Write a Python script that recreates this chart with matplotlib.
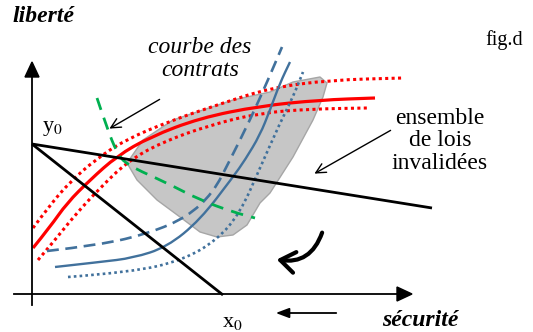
import numpy as np
import matplotlib
matplotlib.use("Agg")
import matplotlib.pyplot as plt
from matplotlib.path import Path
from matplotlib.patches import PathPatch, Polygon, FancyArrowPatch

# ---- diagram data (pixel-like coordinates, y downwards) ----
budget_line_1 = [(32, 144), (432, 208)]
budget_line_2 = [(32, 144), (223, 295)]

red_solid_x = [33, 50, 67, 90, 117, 150, 200, 260, 320, 375]
red_solid_y = [248, 227, 203, 180, 156, 137, 118, 106, 100, 98]
red_up_x = [33, 50, 70, 95, 125, 170, 220, 270, 330, 403]
red_up_y = [228, 205, 182, 160, 140, 121, 104, 88, 80, 78]
red_low_x = [38, 55, 75, 100, 127, 160, 210, 260, 310, 367]
red_low_y = [260, 240, 215, 188, 162, 143, 125, 113, 109, 108]

blue_dash_x = [47, 100, 150, 187, 213, 230, 250, 268, 282]
blue_dash_y = [251, 245, 233, 217, 193, 160, 120, 80, 47]
blue_solid_x = [55, 100, 133, 167, 200, 233, 245, 260, 270, 280, 290]
blue_solid_y = [267, 262, 258, 247, 220, 177, 160, 135, 110, 83, 62]
blue_dot_x = [68, 133, 183, 217, 240, 260, 280, 293, 303]
blue_dot_y = [277, 272, 260, 240, 213, 168, 123, 97, 72]

green_x = [97, 107, 117, 127, 167, 200, 233, 255]
green_y = [98, 128, 153, 165, 183, 200, 212, 218]

blob_x = [127, 143, 173, 233, 270, 293, 320, 327, 323, 313, 293, 270, 260, 247, 233, 217, 200, 180, 157, 137]
blob_y = [163, 140, 120, 100, 92, 82, 77, 83, 97, 120, 157, 193, 203, 225, 235, 237, 232, 217, 200, 180]

BLUE = "#41719C"
RED = "#FF0000"
GREEN = "#00B050"


def smooth_path(xs, ys):
    pts = list(zip(xs, ys))
    verts = [pts[0]]
    codes = [Path.MOVETO]
    for i in range(1, len(pts) - 1):
        mid = ((pts[i][0] + pts[i + 1][0]) / 2, (pts[i][1] + pts[i + 1][1]) / 2)
        verts += [pts[i], mid]
        codes += [Path.CURVE3, Path.CURVE3]
    verts.append(pts[-1])
    codes.append(Path.LINETO)
    return Path(verts, codes)


fig = plt.figure(figsize=(5.33, 3.32), dpi=100)
ax = fig.add_axes([0, 0, 1, 1])
ax.set_xlim(0, 533)
ax.set_ylim(332, 0)
ax.axis("off")

# gray blob
ax.add_patch(Polygon(list(zip(blob_x, blob_y)), closed=True, facecolor="#C6C6C6",
                     edgecolor="#A6A6A6", lw=1.0, joinstyle="round", zorder=1))

# axes
ax.plot([14, 398], [294, 294], color="black", lw=1.3, zorder=3)
ax.plot([32, 32], [305, 76], color="black", lw=1.3, zorder=3)
ax.add_patch(Polygon([(397, 287), (412, 294), (397, 301)], closed=True, color="black", zorder=3))
ax.add_patch(Polygon([(25, 77), (32, 62), (39, 77)], closed=True, color="black", zorder=3))

# curves
def add_curve(xs, ys, color, lw, ls):
    ax.add_patch(PathPatch(smooth_path(xs, ys), fill=False, edgecolor=color, lw=lw,
                           linestyle=ls, capstyle="butt", zorder=2))

add_curve(red_solid_x, red_solid_y, RED, 2.3, "-")
add_curve(red_up_x, red_up_y, RED, 2.2, (0, (1, 1.1)))
add_curve(red_low_x, red_low_y, RED, 2.2, (0, (1, 1.1)))
add_curve(blue_dash_x, blue_dash_y, BLUE, 1.9, (0, (4.5, 2.5)))
add_curve(blue_solid_x, blue_solid_y, BLUE, 1.7, "-")
add_curve(blue_dot_x, blue_dot_y, BLUE, 1.9, (0, (1, 1.2)))
add_curve(green_x, green_y, GREEN, 2.0, (0, (4.5, 3)))

# budget lines
for seg in (budget_line_1, budget_line_2):
    ax.plot([seg[0][0], seg[1][0]], [seg[0][1], seg[1][1]], color="black", lw=2.0,
            solid_capstyle="butt", zorder=4)

# annotation arrows
ax.annotate("", xy=(107, 130), xytext=(162, 98),
            arrowprops=dict(arrowstyle="->,head_length=0.7,head_width=0.35", lw=1.0, color="black"), zorder=5)
ax.annotate("", xy=(312, 175), xytext=(393, 129),
            arrowprops=dict(arrowstyle="->,head_length=0.7,head_width=0.35", lw=1.0, color="black"), zorder=5)
ax.annotate("", xy=(273, 313), xytext=(339, 313),
            arrowprops=dict(arrowstyle="-|>,head_length=0.8,head_width=0.3", lw=1.3, color="black"), zorder=5)
ax.add_patch(FancyArrowPatch((323, 230), (274, 259), connectionstyle="arc3,rad=-0.45",
                             arrowstyle="->,head_length=0.7,head_width=0.5", lw=3.0,
                             color="black", mutation_scale=15, zorder=5))

# texts
serif = "Liberation Serif"
ax.text(12, 17, "liberté", fontsize=17, fontweight="bold", style="italic", family=serif,
        ha="left", va="center")
ax.text(458, 321, "sécurité", fontsize=17, fontweight="bold", style="italic", family=serif,
        ha="right", va="center")
ax.text(523, 40, "fig.d", fontsize=14.5, family=serif, ha="right", va="center")
ax.text(200, 59, "courbe des\ncontrats", fontsize=17, style="italic", family=serif,
        ha="center", va="center", linespacing=1.1)
ax.text(440, 141, "ensemble\nde lois\ninvalidées", fontsize=17, family=serif,
        ha="center", va="center", linespacing=1.1)
ax.text(42, 128, r"y$_0$", fontsize=16, family=serif, ha="left", va="center",
        math_fontfamily="stix")
ax.text(222, 322, r"x$_0$", fontsize=16, family=serif, ha="left", va="center",
        math_fontfamily="stix")

fig.savefig("out.png", dpi=100)
